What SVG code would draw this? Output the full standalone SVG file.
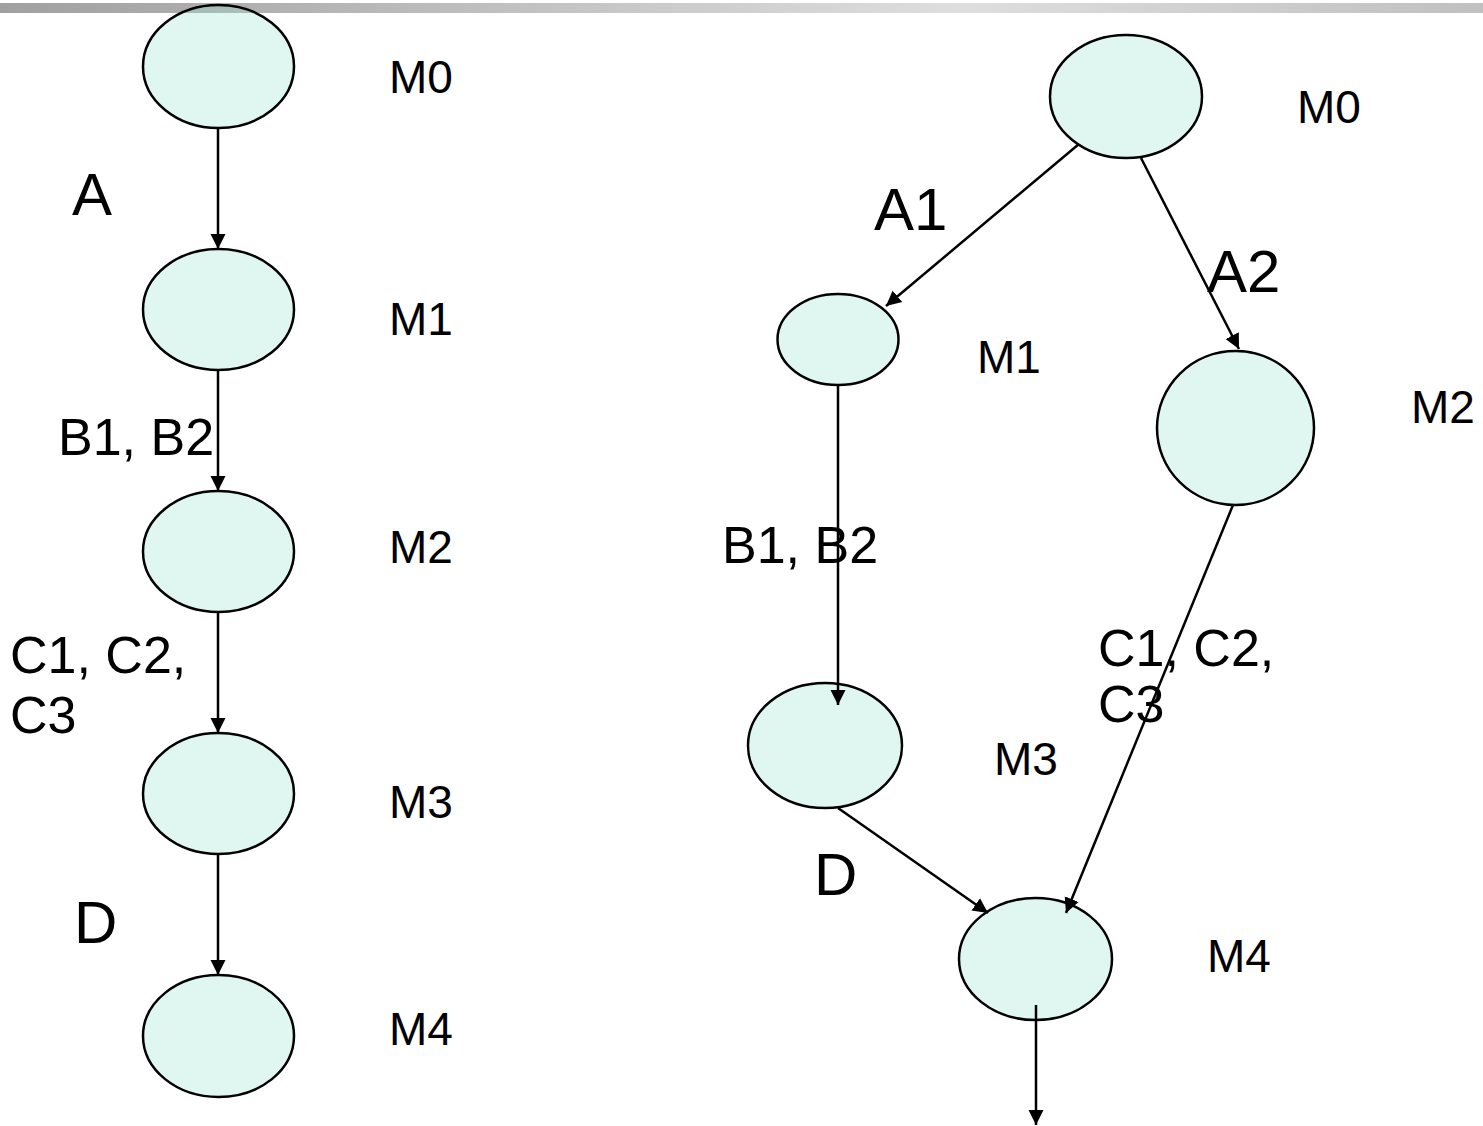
<svg xmlns="http://www.w3.org/2000/svg" width="1483" height="1126" viewBox="0 0 1483 1126">
<style>
.node{fill:#94e4cd;fill-opacity:0.3;stroke:#000;stroke-width:2.5}
.lbl{font-family:"Liberation Sans",Arial,sans-serif;font-size:46px;fill:#000}
.ed{font-family:"Liberation Sans",Arial,sans-serif;font-size:52px;fill:#000}
.big{font-family:"Liberation Sans",Arial,sans-serif;font-size:60px;fill:#000}
.edge{stroke:#000;stroke-width:2.5;fill:none;marker-end:url(#ah)}
</style>
<defs>
<linearGradient id="bar" x1="0" y1="0" x2="1" y2="0">
<stop offset="0" stop-color="#a0a0a0"/>
<stop offset="0.65" stop-color="#dedede"/>
<stop offset="1" stop-color="#c0c0c0"/>
</linearGradient>
<marker id="ah" markerUnits="userSpaceOnUse" markerWidth="16" markerHeight="16" viewBox="0 0 16 16" refX="15" refY="8" orient="auto">
<path d="M0,0.5 L15,8 L0,15.5 z" fill="#000"/>
</marker>
</defs>
<rect x="0" y="3" width="1483" height="10" fill="url(#bar)"/>
<g id="L-M0"><ellipse class="node" cx="218.5" cy="66.5" rx="75.5" ry="61.5"/><text class="lbl" x="389" y="93">M0</text></g>
<g id="L-M1"><ellipse class="node" cx="218.5" cy="309.5" rx="75.5" ry="60.5"/><text class="lbl" x="389" y="335">M1</text></g>
<g id="L-M2"><ellipse class="node" cx="218.5" cy="551.5" rx="75.5" ry="60.5"/><text class="lbl" x="389" y="563">M2</text></g>
<g id="L-M3"><ellipse class="node" cx="218.5" cy="793.5" rx="75.5" ry="60.5"/><text class="lbl" x="389" y="818">M3</text></g>
<g id="L-M4"><ellipse class="node" cx="218.5" cy="1036" rx="75.5" ry="61"/><text class="lbl" x="389" y="1045">M4</text></g>
<g id="R-M0"><ellipse class="node" cx="1126" cy="96.5" rx="76" ry="61.5"/><text class="lbl" x="1297" y="123">M0</text></g>
<g id="R-M1"><ellipse class="node" cx="838" cy="339.5" rx="60.5" ry="45.5"/><text class="lbl" x="977" y="373">M1</text></g>
<g id="R-M2"><ellipse class="node" cx="1235.5" cy="428" rx="78.5" ry="77"/><text class="lbl" x="1411" y="423">M2</text></g>
<g id="R-M3"><ellipse class="node" cx="825" cy="745.5" rx="77" ry="62.5"/><text class="lbl" x="994" y="775">M3</text></g>
<g id="R-M4"><ellipse class="node" cx="1035.5" cy="959" rx="76.5" ry="61"/><text class="lbl" x="1207" y="972">M4</text></g>
<g id="connectors">
<line class="edge" x1="218" y1="128" x2="218" y2="249"/>
<line class="edge" x1="218" y1="370" x2="218" y2="491"/>
<line class="edge" x1="218" y1="612" x2="218" y2="733"/>
<line class="edge" x1="218" y1="854" x2="218" y2="975"/>
<line class="edge" x1="1079" y1="144" x2="886" y2="306"/>
<line class="edge" x1="1141" y1="158" x2="1239" y2="349"/>
<line class="edge" x1="838" y1="385" x2="838" y2="705"/>
<line class="edge" x1="838" y1="808" x2="988" y2="913"/>
<line class="edge" x1="1233" y1="505" x2="1066" y2="913"/>
<line class="edge" x1="1036" y1="1005" x2="1036" y2="1125"/>
</g>
<g id="edge-labels">
<text class="big" x="72" y="215">A</text>
<text class="ed" x="58" y="455">B1, B2</text>
<text class="ed" x="10" y="673">C1, C2,</text>
<text class="ed" x="10" y="733">C3</text>
<text class="big" x="74" y="943">D</text>
<text class="big" x="874" y="230">A1</text>
<text class="big" x="1207" y="292">A2</text>
<text class="ed" x="722" y="563">B1, B2</text>
<text class="ed" x="1098" y="666">C1, C2,</text>
<text class="ed" x="1098" y="722">C3</text>
<text class="big" x="814" y="895">D</text>
</g>
</svg>
